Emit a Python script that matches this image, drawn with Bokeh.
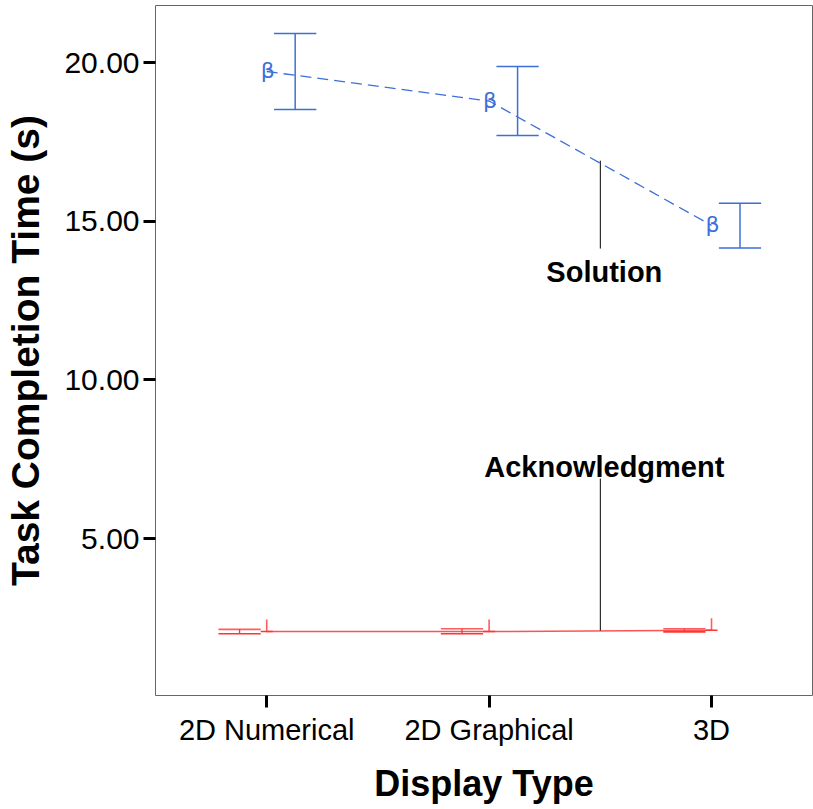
from bokeh.plotting import figure
from bokeh.models import Range1d, FixedTicker, NumeralTickFormatter
from bokeh.core.properties import value
from bokeh.embed import file_html
from bokeh.resources import INLINE

# ---- data ----
categories = ["2D Numerical", "2D Graphical", "3D"]
solution_mean = [19.72, 18.79, 14.87]
solution_lower = [18.52, 17.70, 14.16]
solution_upper = [20.92, 19.88, 15.57]
ack_mean = [2.07, 2.07, 2.11]
ack_lower = [2.00, 2.00, 2.06]
ack_upper = [2.14, 2.16, 2.16]
y_ticks = [5, 10, 15, 20]

BLUE = "#3d6fd6"
RED = "#ff3535"
FONT = "Liberation Sans"

xs = list(range(len(categories)))
sol_dodge = 0.128
ack_dodge = -0.122
cap_half = 0.095

p = figure(width=813, height=809, output_backend="svg", toolbar_location=None,
           x_range=Range1d(-0.5, 2.454), y_range=Range1d(0.055, 21.8),
           min_border_left=155, min_border_right=1, min_border_top=5, min_border_bottom=114)
p.background_fill_color = "white"
p.border_fill_color = "white"
p.outline_line_color = "#666666"
p.outline_line_width = 1
p.grid.visible = False

# axes
p.xaxis.ticker = FixedTicker(ticks=xs)
p.xaxis.major_label_overrides = {i: c for i, c in enumerate(categories)}
p.yaxis.ticker = FixedTicker(ticks=y_ticks)
p.yaxis.formatter = NumeralTickFormatter(format="0.00")
for ax in (p.xaxis, p.yaxis):
    ax.axis_line_color = None
    ax.major_tick_in = 0
    ax.major_tick_out = 12
    ax.major_tick_line_width = 3
    ax.major_tick_line_color = "black"
    ax.minor_tick_line_color = None
    ax.major_label_text_font = FONT
    ax.major_label_text_color = "black"
    ax.axis_label_text_font = FONT
    ax.axis_label_text_font_style = "bold"
    ax.axis_label_text_color = "black"
p.xaxis.major_label_text_font_size = "29px"
p.yaxis.major_label_text_font_size = "30px"
p.xaxis.axis_label = "Display Type"
p.yaxis.axis_label = "Task Completion Time (s)"
p.xaxis.axis_label_text_font_size = "36px"
p.yaxis.axis_label_text_font_size = "39px"
p.xaxis.major_label_standoff = 6
p.yaxis.major_label_standoff = 4
p.xaxis.axis_label_standoff = 14
p.yaxis.axis_label_standoff = 14

# ---- Solution series ----
sx = [x + sol_dodge for x in xs]
p.segment(x0=sx, y0=solution_lower, x1=sx, y1=solution_upper, line_color=BLUE, line_width=1.5)
p.segment(x0=[x - cap_half for x in sx], y0=solution_upper, x1=[x + cap_half for x in sx],
          y1=solution_upper, line_color=BLUE, line_width=1.5)
p.segment(x0=[x - cap_half for x in sx], y0=solution_lower, x1=[x + cap_half for x in sx],
          y1=solution_lower, line_color=BLUE, line_width=1.5)
p.line(xs, solution_mean, line_color=BLUE, line_width=1.3, line_dash="11 6")
p.text(x=xs, y=solution_mean, text=["β"] * len(xs), text_color=BLUE, text_font_size="22px",
       text_font=value("DejaVu Sans"),
       text_align="center", text_baseline="alphabetic", x_offset=1, y_offset=-1)

# ---- Acknowledgment series ----
ax_ = [x + ack_dodge for x in xs]
p.segment(x0=ax_, y0=ack_lower, x1=ax_, y1=ack_upper, line_color=RED, line_width=1.3)
p.segment(x0=[x - cap_half for x in ax_], y0=ack_upper, x1=[x + cap_half for x in ax_],
          y1=ack_upper, line_color=RED, line_width=1.6, line_alpha=0.8)
p.segment(x0=[x - cap_half for x in ax_], y0=ack_lower, x1=[x + cap_half for x in ax_],
          y1=ack_lower, line_color=RED, line_width=1.6)
p.line(xs, ack_mean, line_color=RED, line_width=1.4, line_alpha=0.85)
marker_h = 0.38
p.segment(x0=xs, y0=ack_mean, x1=xs, y1=[m + marker_h for m in ack_mean], line_color=RED,
          line_width=1.6, line_alpha=0.8)
p.scatter(x=xs, y=ack_mean, marker="dash", size=12, line_color=RED, line_width=1.6)

# ---- callout labels ----
label_x = 1.5
p.segment(x0=[label_x], y0=[16.91], x1=[label_x], y1=[14.14], line_color="black", line_width=1)
p.text(x=[label_x], y=[13.39], text=["Solution"], text_font=value(FONT),
       text_font_style="bold", text_font_size="29px", text_align="center", text_baseline="middle",
       x_offset=4, text_color="black")
p.segment(x0=[label_x], y0=[6.89], x1=[label_x], y1=[2.10], line_color="black", line_width=1)
p.text(x=[label_x], y=[7.27], text=["Acknowledgment"], text_font=value(FONT),
       text_font_style="bold", text_font_size="29px", text_align="center", text_baseline="middle",
       x_offset=4, text_color="black")

open("out.html", "w").write(file_html(p, INLINE))
